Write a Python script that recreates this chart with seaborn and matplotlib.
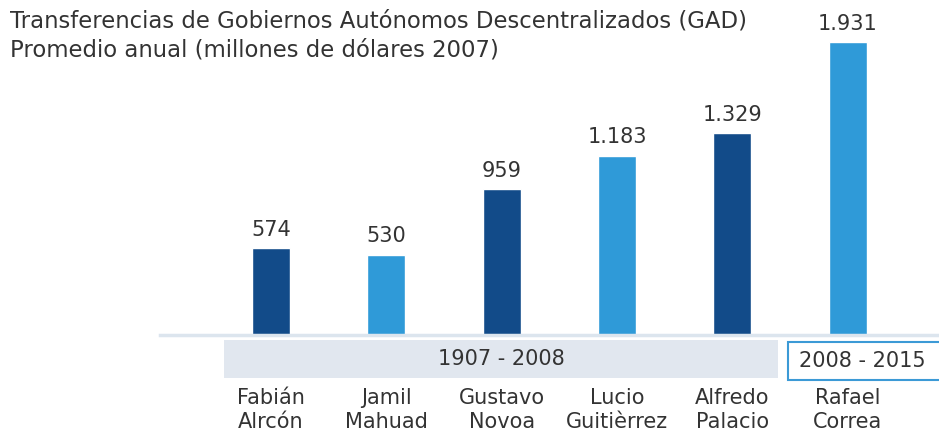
import pandas as pd
import seaborn as sns
import matplotlib.pyplot as plt
import matplotlib.transforms as mtransforms
from matplotlib.patches import Rectangle

# ---------------------------------------------------------------------------
# Data
# ---------------------------------------------------------------------------
presidentes = ["Fabián\nAlrcón", "Jamil\nMahuad", "Gustavo\nNovoa",
               "Lucio\nGuitièrrez", "Alfredo\nPalacio", "Rafael\nCorrea"]
transferencias = [574, 530, 959, 1183, 1329, 1931]
tono = ["oscuro", "claro", "oscuro", "claro", "oscuro", "claro"]

titulo = ("Transferencias de Gobiernos Autónomos Descentralizados (GAD)\n"
          "Promedio anual (millones de dólares 2007)")
periodo_1 = "1907 - 2008"
periodo_2 = "2008 - 2015"

df = pd.DataFrame({"presidente": presidentes,
                   "valor": transferencias,
                   "tono": tono})

colores = {"oscuro": "#124b89", "claro": "#2f9ad8"}
TXT = "#333333"

# ---------------------------------------------------------------------------
# Figure
# ---------------------------------------------------------------------------
sns.set_style("white")
plt.rcParams["font.family"] = ["DejaVu Sans"]

W, H = 939, 437
fig = plt.figure(figsize=(W / 100, H / 100), dpi=100)
ax = fig.add_axes([160 / W, (H - 335) / H, (W - 160) / W, 335 / H])

sns.barplot(data=df, x="presidente", y="valor", hue="tono",
            palette=colores, dodge=False, width=0.33, legend=False,
            saturation=1, ax=ax)

ax.set_xlim(-0.96, 5.79)
ax.set_ylim(0, 2208)

for cont in ax.containers:
    ax.bar_label(cont, labels=[f"{v:,.0f}".replace(",", ".") for v in cont.datavalues],
                 padding=6, fontsize=15, color=TXT)

for s in ["top", "right", "left"]:
    ax.spines[s].set_visible(False)
ax.spines["bottom"].set_color("#dce5ee")
ax.spines["bottom"].set_linewidth(2.5)
ax.set_yticks([])
ax.set_xlabel("")
ax.set_ylabel("")
ax.tick_params(axis="x", length=0, pad=38, labelsize=15, labelcolor=TXT)
for lab in ax.get_xticklabels():
    lab.set_linespacing(1.25)

# period bands under the axis
trans = mtransforms.blended_transform_factory(ax.transData, ax.transAxes)
band_h = 38 / 335
ax.add_patch(Rectangle((-0.405, -43 / 335), 4.8, band_h, transform=trans,
                       facecolor="#e1e7ef", edgecolor="none", clip_on=False))
ax.text(1.995, -24 / 335, periodo_1, transform=trans, ha="center", va="center",
        fontsize=15, color=TXT)
ax.add_patch(Rectangle((4.48, -45 / 335), 1.4, band_h, transform=trans,
                       facecolor="white", edgecolor="#3c9ad6", lw=1.5, clip_on=False))
ax.text(4.58, -26 / 335, periodo_2, transform=trans, ha="left", va="center",
        fontsize=15, color=TXT)

fig.text(10 / W, 1 - 10 / H, titulo, ha="left", va="top", fontsize=16.4,
         color=TXT, linespacing=1.32)

fig.savefig("out.png", dpi=100)
